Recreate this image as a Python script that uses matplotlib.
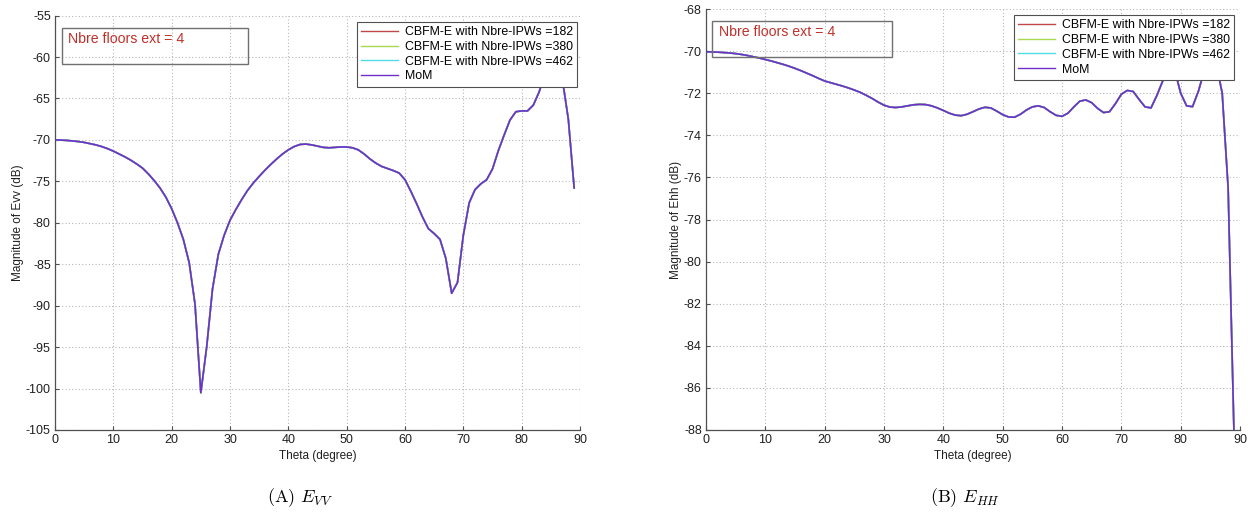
import matplotlib
matplotlib.use("Agg")
import matplotlib.pyplot as plt
from matplotlib.patches import Rectangle

plt.rcParams['font.family'] = ['Liberation Sans', 'DejaVu Sans']
plt.rcParams['mathtext.fontset'] = 'cm'
plt.rcParams['axes.unicode_minus'] = False

# ---------------- data ----------------
theta = list(range(0, 90))

evv_mom = [-70.0, -70.02, -70.06, -70.12, -70.2, -70.3, -70.45, -70.6, -70.8, -71.05,
           -71.35, -71.7, -72.05, -72.45, -72.9, -73.4, -74.1, -74.9, -75.8, -76.9,
           -78.3, -80.0, -82.0, -84.8, -89.8, -100.5, -95.0, -88.0, -83.8, -81.5,
           -79.7, -78.4, -77.2, -76.1, -75.2, -74.4, -73.65, -72.95, -72.3, -71.7,
           -71.2, -70.8, -70.55, -70.5, -70.6, -70.75, -70.9, -70.95, -70.9, -70.85,
           -70.85, -70.95, -71.2, -71.7, -72.3, -72.8, -73.2, -73.45, -73.7, -74.0,
           -74.8, -76.2, -77.7, -79.3, -80.7, -81.3, -82.0, -84.3, -88.5, -87.2,
           -81.5, -77.6, -76.0, -75.3, -74.8, -73.5, -71.3, -69.4, -67.6, -66.6,
           -66.5, -66.5, -65.8, -64.2, -62.0, -60.5, -61.0, -62.8, -67.5, -75.8]

ehh_mom = [-70.03, -70.04, -70.05, -70.07, -70.09, -70.12, -70.16, -70.21, -70.27, -70.33,
           -70.4, -70.47, -70.55, -70.63, -70.72, -70.82, -70.93, -71.05, -71.17, -71.3,
           -71.42, -71.5, -71.58, -71.66, -71.75, -71.85, -71.96, -72.1, -72.25, -72.42,
           -72.57, -72.66, -72.68, -72.65, -72.6, -72.55, -72.53, -72.54, -72.6, -72.7,
           -72.82, -72.95, -73.04, -73.07, -73.0, -72.88, -72.75, -72.67, -72.7, -72.85,
           -73.02, -73.13, -73.14, -73.0, -72.8, -72.65, -72.6, -72.68, -72.88, -73.05,
           -73.1, -72.95, -72.65, -72.38, -72.32, -72.45, -72.72, -72.92, -72.88, -72.5,
           -72.05, -71.87, -71.92, -72.3, -72.65, -72.7, -72.1, -71.4, -70.9, -70.9,
           -72.0, -72.6, -72.64, -71.9, -70.9, -70.4, -70.6, -72.0, -76.5, -88.3]

# CBFM-E results coincide with MoM at the picture's resolution
evv_cbfm_182 = evv_mom
evv_cbfm_380 = evv_mom
evv_cbfm_462 = evv_mom
ehh_cbfm_182 = ehh_mom
ehh_cbfm_380 = ehh_mom
ehh_cbfm_462 = ehh_mom

labels = ['CBFM-E with Nbre-IPWs =182', 'CBFM-E with Nbre-IPWs =380',
          'CBFM-E with Nbre-IPWs =462', 'MoM']
colors = ['#c04848', '#a8d850', '#50dce6', '#7030c8']

xticks = list(range(0, 91, 10))
evv_yticks = list(range(-105, -54, 5))
ehh_yticks = list(range(-88, -67, 2))

# ---------------- figure ----------------
fig = plt.figure(figsize=(12.52, 5.18), dpi=100)
ax1 = fig.add_axes([55/1252, 1-430/518, 525/1252, 414.4/518])
ax2 = fig.add_axes([706/1252, 1-430/518, 534/1252, 421/518])


def style(ax, yticks, ylabel, series, leg_anchor, box, txt):
    for s, c, l in zip(series, colors, labels):
        ax.plot(theta, s, color=c, lw=1.2, label=l)
    ax.set_xlim(0, 90)
    ax.set_ylim(yticks[0], yticks[-1])
    ax.set_xticks(xticks)
    ax.set_yticks(yticks)
    ax.grid(True, color='#b8b8b8', linestyle=(0, (1, 2)), lw=0.8)
    ax.set_axisbelow(True)
    for sp in ['top', 'right']:
        ax.spines[sp].set_visible(False)
    for sp in ['left', 'bottom']:
        ax.spines[sp].set_color('#505050')
        ax.spines[sp].set_linewidth(0.9)
    ax.tick_params(direction='in', length=3, width=0.8, color='#505050',
                   labelsize=9, labelcolor='#202020', pad=3)
    ax.set_xlabel('Theta (degree)', fontsize=8.5, color='#202020', labelpad=3)
    ax.set_ylabel(ylabel, fontsize=8.5, color='#202020', labelpad=1.5)
    leg = ax.legend(loc='upper right', bbox_to_anchor=leg_anchor, borderaxespad=0,
                    fontsize=8.9, handlelength=3.0, labelspacing=0.22,
                    handletextpad=0.5, borderpad=0.35, fancybox=False,
                    framealpha=1, edgecolor='#505050')
    leg.get_frame().set_linewidth(0.8)
    for h in leg.get_lines():
        h.set_linewidth(1.0)
    x0, y0, x1, y1 = box
    ax.add_patch(Rectangle((x0, y0), x1 - x0, y1 - y0, transform=ax.transAxes,
                           fill=False, edgecolor='#707070', lw=1.0, zorder=5))
    ax.text(txt[0], txt[1], 'Nbre floors ext = 4', transform=ax.transAxes,
            color='#c0302a', fontsize=10.2, va='center', ha='left', zorder=6)


style(ax1, evv_yticks, 'Magnitude of Evv (dB)',
      [evv_cbfm_182, evv_cbfm_380, evv_cbfm_462, evv_mom],
      (0.9943, 0.9846), (0.0133, 0.883, 0.3676, 0.970), (0.0248, 0.9435))
style(ax2, ehh_yticks, 'Magnitude of Ehh (dB)',
      [ehh_cbfm_182, ehh_cbfm_380, ehh_cbfm_462, ehh_mom],
      (0.9888, 0.9857), (0.0112, 0.886, 0.3483, 0.9715), (0.0243, 0.945))

fig.text(0.240, 0.040, r'(A) $E_{VV}$', family='cmr10', fontsize=13,
         ha='center', va='center')
fig.text(0.771, 0.040, r'(B) $E_{HH}$', family='cmr10', fontsize=13,
         ha='center', va='center')

fig.savefig('out.png', dpi=100)
